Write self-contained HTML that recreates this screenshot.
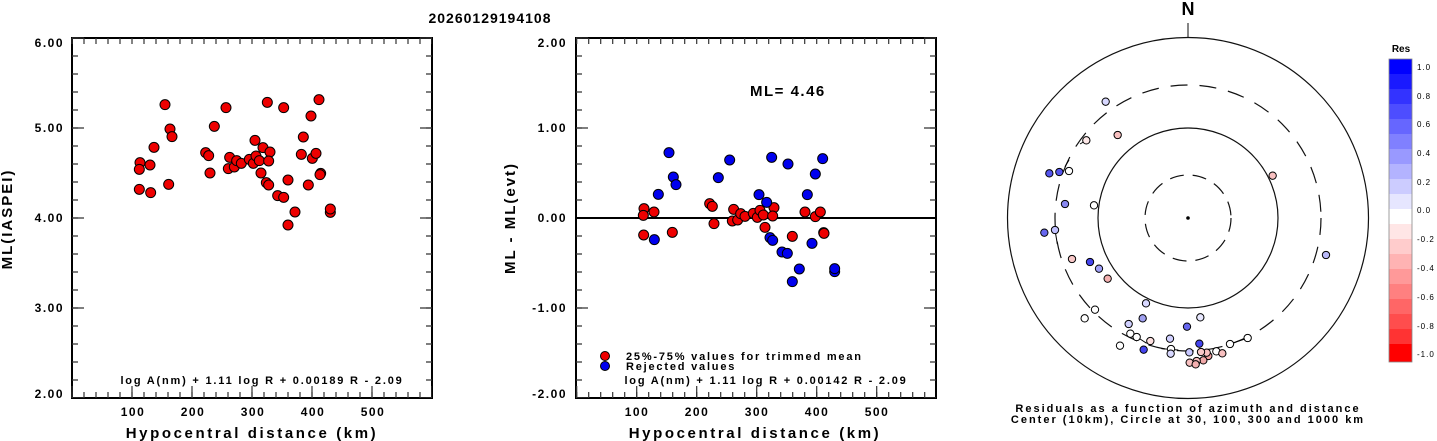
<!DOCTYPE html>
<html><head><meta charset="utf-8"><style>
html,body{margin:0;padding:0;background:#fff;}
svg{display:block;font-family:"Liberation Sans",sans-serif;font-weight:bold;}
</style></head><body>
<svg width="1437" height="441" viewBox="0 0 1437 441" xmlns="http://www.w3.org/2000/svg">
<text x="490" y="23" font-size="14" text-anchor="middle" letter-spacing="1">20260129194108</text>

<!-- LEFT PLOT -->
<g stroke="#333" fill="none">
<rect x="72" y="38" width="360" height="360" stroke="#000" stroke-width="2"/>
<line x1="75" y1="37.4" x2="75" y2="398" stroke-width="6" stroke-dasharray="1.2 16.8"/>
<line x1="78" y1="37.4" x2="78" y2="398" stroke-width="12" stroke-dasharray="1.2 88.8"/>
<line x1="429" y1="37.4" x2="429" y2="398" stroke-width="6" stroke-dasharray="1.2 16.8"/>
<line x1="426" y1="37.4" x2="426" y2="398" stroke-width="12" stroke-dasharray="1.2 88.8"/>
<line x1="71.4" y1="395" x2="432" y2="395" stroke-width="6" stroke-dasharray="1.2 10.8"/>
<line x1="71.4" y1="392" x2="432" y2="392" stroke-width="12" stroke-dasharray="1.2 58.8"/>
<line x1="71.4" y1="41" x2="432" y2="41" stroke-width="6" stroke-dasharray="1.2 10.8"/>
</g>
<g font-size="12" text-anchor="end" letter-spacing="1.5">
<text x="64" y="47">6.00</text><text x="64" y="132">5.00</text><text x="64" y="222">4.00</text><text x="64" y="312">3.00</text><text x="64" y="398">2.00</text>
</g>
<g font-size="12" text-anchor="middle" letter-spacing="1.5">
<text x="133" y="416">100</text><text x="193" y="416">200</text><text x="253" y="416">300</text><text x="313" y="416">400</text><text x="373" y="416">500</text>
</g>
<text x="252" y="438" font-size="15" text-anchor="middle" letter-spacing="2.6">Hypocentral distance (km)</text>
<text transform="translate(12,219) rotate(-90)" font-size="15" text-anchor="middle" letter-spacing="2">ML(IASPEI)</text>
<text x="262" y="384" font-size="11" text-anchor="middle" letter-spacing="1.8" font-weight="normal" style="font-weight:bold">log A(nm) + 1.11 log R + 0.00189 R - 2.09</text>
<g transform="translate(0,30) scale(0.33333)" fill="#e00" stroke="#000" stroke-width="3">
<circle cx="420" cy="398" r="15"/><circle cx="418" cy="418" r="15"/><circle cx="418" cy="478" r="15"/><circle cx="450" cy="405" r="15"/><circle cx="452" cy="488" r="15"/><circle cx="462" cy="352" r="15"/><circle cx="495" cy="224" r="15"/><circle cx="510" cy="297" r="15"/><circle cx="516" cy="320" r="15"/><circle cx="506" cy="463" r="15"/><circle cx="617" cy="368" r="15"/><circle cx="626" cy="377" r="15"/><circle cx="630" cy="429" r="15"/><circle cx="643" cy="289" r="15"/><circle cx="678" cy="233" r="15"/><circle cx="689" cy="382" r="15"/><circle cx="685" cy="416" r="15"/><circle cx="703" cy="411" r="15"/><circle cx="710" cy="392" r="15"/><circle cx="724" cy="400" r="15"/><circle cx="748" cy="388" r="15"/><circle cx="760" cy="400" r="15"/><circle cx="765" cy="331" r="15"/><circle cx="768" cy="378" r="15"/><circle cx="778" cy="392" r="15"/><circle cx="789" cy="353" r="15"/><circle cx="783" cy="429" r="15"/><circle cx="802" cy="217" r="15"/><circle cx="810" cy="366" r="15"/><circle cx="806" cy="393" r="15"/><circle cx="799" cy="458" r="15"/><circle cx="806" cy="465" r="15"/><circle cx="833" cy="497" r="15"/><circle cx="851" cy="502" r="15"/><circle cx="851" cy="233" r="15"/><circle cx="864" cy="450" r="15"/><circle cx="864" cy="585" r="15"/><circle cx="885" cy="546" r="15"/><circle cx="904" cy="373" r="15"/><circle cx="910" cy="321" r="15"/><circle cx="925" cy="465" r="15"/><circle cx="933" cy="258" r="15"/><circle cx="937" cy="385" r="15"/><circle cx="948" cy="370" r="15"/><circle cx="957" cy="209" r="15"/><circle cx="962" cy="430" r="15"/><circle cx="960" cy="434" r="15"/><circle cx="991" cy="547" r="15"/><circle cx="991" cy="537" r="15"/>
</g>

<!-- MIDDLE PLOT -->
<g stroke="#333" fill="none">
<rect x="576" y="38" width="360" height="360" stroke="#000" stroke-width="2"/>
<line x1="579" y1="37.4" x2="579" y2="398" stroke-width="6" stroke-dasharray="1.2 16.8"/>
<line x1="582" y1="37.4" x2="582" y2="398" stroke-width="12" stroke-dasharray="1.2 88.8"/>
<line x1="933" y1="37.4" x2="933" y2="398" stroke-width="6" stroke-dasharray="1.2 16.8"/>
<line x1="930" y1="37.4" x2="930" y2="398" stroke-width="12" stroke-dasharray="1.2 88.8"/>
<line x1="576.1" y1="395" x2="936" y2="395" stroke-width="6" stroke-dasharray="1.2 10.8"/>
<line x1="576.1" y1="392" x2="936" y2="392" stroke-width="12" stroke-dasharray="1.2 58.8"/>
<line x1="576.1" y1="41" x2="936" y2="41" stroke-width="6" stroke-dasharray="1.2 10.8"/>
<line x1="576" y1="218" x2="936" y2="218" stroke="#000" stroke-width="2"/>
</g>
<g font-size="12" text-anchor="end" letter-spacing="1.5">
<text x="567" y="47">2.00</text><text x="567" y="132">1.00</text><text x="567" y="222">0.00</text><text x="567" y="312">-1.00</text><text x="567" y="398">-2.00</text>
</g>
<g font-size="12" text-anchor="middle" letter-spacing="1.5">
<text x="637" y="416">100</text><text x="697" y="416">200</text><text x="757" y="416">300</text><text x="817" y="416">400</text><text x="877" y="416">500</text>
</g>
<text x="755" y="438" font-size="15" text-anchor="middle" letter-spacing="2.6">Hypocentral distance (km)</text>
<text transform="translate(515,218) rotate(-90)" font-size="15" text-anchor="middle" letter-spacing="2">ML - ML(evt)</text>
<text x="750" y="96" font-size="15" letter-spacing="1.5">ML= 4.46</text>
<circle cx="605" cy="356" r="4.5" fill="#e00" stroke="#000"/>
<circle cx="605" cy="366" r="4.5" fill="#00e" stroke="#000"/>
<text x="626" y="360" font-size="11" letter-spacing="1.8">25%-75% values for trimmed mean</text>
<text x="626" y="370" font-size="11" letter-spacing="1.8">Rejected values</text>
<text x="766" y="384" font-size="11" text-anchor="middle" letter-spacing="1.8">log A(nm) + 1.11 log R + 0.00142 R - 2.09</text>
<g transform="translate(500,30) scale(0.33333)" stroke="#000" stroke-width="3">
<g fill="#e00">
<circle cx="432" cy="536" r="15"/><circle cx="430" cy="556" r="15"/><circle cx="431" cy="615" r="15"/><circle cx="462" cy="546" r="15"/><circle cx="517" cy="607" r="15"/><circle cx="629" cy="521" r="15"/><circle cx="637" cy="529" r="15"/><circle cx="642" cy="581" r="15"/><circle cx="701" cy="538" r="15"/><circle cx="697" cy="573" r="15"/><circle cx="713" cy="570" r="15"/><circle cx="722" cy="551" r="15"/><circle cx="735" cy="559" r="15"/><circle cx="760" cy="550" r="15"/><circle cx="772" cy="562" r="15"/><circle cx="780" cy="541" r="15"/><circle cx="790" cy="555" r="15"/><circle cx="795" cy="592" r="15"/><circle cx="822" cy="533" r="15"/><circle cx="818" cy="558" r="15"/><circle cx="877" cy="619" r="15"/><circle cx="915" cy="546" r="15"/><circle cx="946" cy="560" r="15"/><circle cx="961" cy="546" r="15"/><circle cx="971" cy="608" r="15"/><circle cx="972" cy="610" r="15"/>
</g>
<g fill="#00e">
<circle cx="507" cy="368" r="15"/><circle cx="463" cy="629" r="15"/><circle cx="475" cy="493" r="15"/><circle cx="520" cy="441" r="15"/><circle cx="528" cy="464" r="15"/><circle cx="655" cy="443" r="15"/><circle cx="689" cy="390" r="15"/><circle cx="777" cy="494" r="15"/><circle cx="800" cy="517" r="15"/><circle cx="810" cy="623" r="15"/><circle cx="818" cy="631" r="15"/><circle cx="815" cy="382" r="15"/><circle cx="846" cy="666" r="15"/><circle cx="862" cy="670" r="15"/><circle cx="864" cy="402" r="15"/><circle cx="877" cy="755" r="15"/><circle cx="898" cy="717" r="15"/><circle cx="922" cy="494" r="15"/><circle cx="936" cy="640" r="15"/><circle cx="946" cy="432" r="15"/><circle cx="968" cy="386" r="15"/><circle cx="1004" cy="725" r="15"/><circle cx="1004" cy="716" r="15"/>
</g>
</g>

<!-- POLAR -->
<text x="1188" y="15" font-size="18" text-anchor="middle">N</text>
<line x1="1188" y1="23" x2="1188" y2="38" stroke="#333" stroke-width="1.2"/>
<g fill="none" stroke="#111" stroke-width="1.2">
<circle cx="1188" cy="218" r="180.5"/>
<circle cx="1188" cy="218" r="90"/>
<circle cx="1188" cy="218" r="133" stroke-dasharray="17 12"/>
<circle cx="1188" cy="218" r="43" stroke-dasharray="14 9"/>
</g>
<circle cx="1188" cy="218" r="1.8" fill="#000"/>
<g transform="translate(1000,0) scale(0.33333)" stroke="#000" stroke-width="3">
<g stroke-width="3"><line x1="690" y1="1032" x2="743" y2="1014"/><line x1="484" y1="1046" x2="535" y2="1050"/><line x1="411" y1="1011" x2="440" y2="1030"/><line x1="165" y1="690" x2="172" y2="732"/><line x1="195" y1="500" x2="207" y2="480"/><line x1="259" y1="421" x2="240" y2="432"/></g>
<circle cx="317" cy="305" r="11" fill="#d8d8ff"/><circle cx="353" cy="405" r="11" fill="#f8c0c0"/><circle cx="259" cy="421" r="11" fill="#fde8e8"/>
<circle cx="148" cy="520" r="11" fill="#5555ee"/><circle cx="178" cy="516" r="11" fill="#5555ee"/><circle cx="207" cy="513" r="11" fill="#fff"/>
<circle cx="195" cy="612" r="11" fill="#8888f0"/><circle cx="282" cy="616" r="11" fill="#fff"/>
<circle cx="133" cy="698" r="11" fill="#6666ee"/><circle cx="165" cy="690" r="11" fill="#c0c0ff"/>
<circle cx="216" cy="777" r="11" fill="#f8c8c8"/><circle cx="270" cy="786" r="11" fill="#4444ee"/><circle cx="297" cy="806" r="11" fill="#a0a0f8"/><circle cx="323" cy="836" r="11" fill="#f4b0b0"/>
<circle cx="818" cy="527" r="11" fill="#f8c0c0"/><circle cx="978" cy="765" r="11" fill="#b8b8f8"/>
<circle cx="438" cy="910" r="11" fill="#d8d8ff"/><circle cx="285" cy="929" r="11" fill="#fff"/><circle cx="254" cy="955" r="11" fill="#fff"/><circle cx="428" cy="955" r="11" fill="#a0a0f0"/><circle cx="386" cy="972" r="11" fill="#d0d0ff"/><circle cx="601" cy="952" r="11" fill="#e8e8ff"/><circle cx="561" cy="980" r="11" fill="#6666ee"/>
<circle cx="391" cy="1001" r="11" fill="#fff"/><circle cx="410" cy="1011" r="11" fill="#fff"/><circle cx="451" cy="1023" r="11" fill="#fde0e0"/><circle cx="360" cy="1037" r="11" fill="#fff"/><circle cx="431" cy="1049" r="11" fill="#4444ee"/><circle cx="510" cy="1016" r="11" fill="#d0d0ff"/><circle cx="513" cy="1047" r="11" fill="#fff"/><circle cx="512" cy="1061" r="11" fill="#d8d8ff"/><circle cx="598" cy="1031" r="11" fill="#4444ee"/><circle cx="568" cy="1057" r="11" fill="#c8c8ff"/>
<circle cx="649" cy="1054" r="11" fill="#fff"/><circle cx="667" cy="1060" r="11" fill="#f8c0c0"/><circle cx="690" cy="1032" r="11" fill="#fff"/><circle cx="743" cy="1014" r="11" fill="#fff"/>
<circle cx="625" cy="1068" r="11" fill="#f0a0a0"/><circle cx="620" cy="1058" r="11" fill="#f8c0c0"/><circle cx="603" cy="1056" r="11" fill="#f8c8c8"/><circle cx="569" cy="1088" r="11" fill="#f8c0c0"/><circle cx="610" cy="1081" r="11" fill="#f0a8a8"/><circle cx="590" cy="1083" r="11" fill="#f8c0c0"/><circle cx="587" cy="1093" r="11" fill="#f4b0b0"/>
</g>
<g font-size="11" text-anchor="middle" letter-spacing="2">
<text x="1188" y="412">Residuals as a function of azimuth and distance</text>
<text x="1188" y="423">Center (10km), Circle at 30, 100, 300 and 1000 km</text>
</g>

<!-- COLORBAR -->
<text x="1401" y="52" font-size="10" text-anchor="middle">Res</text>
<g stroke="none">
<rect x="1389" y="59" width="23" height="15.2" fill="#0000ff"/>
<rect x="1389" y="74" width="23" height="15.2" fill="#1a1aff"/>
<rect x="1389" y="89" width="23" height="15.2" fill="#3333ff"/>
<rect x="1389" y="104" width="23" height="15.2" fill="#4d4dff"/>
<rect x="1389" y="119" width="23" height="15.2" fill="#6666ff"/>
<rect x="1389" y="134" width="23" height="15.2" fill="#8080ff"/>
<rect x="1389" y="149" width="23" height="15.2" fill="#9999ff"/>
<rect x="1389" y="164" width="23" height="15.2" fill="#b3b3ff"/>
<rect x="1389" y="179" width="23" height="15.2" fill="#ccccff"/>
<rect x="1389" y="194" width="23" height="15.2" fill="#e6e6ff"/>
<rect x="1389" y="209" width="23" height="15.2" fill="#ffffff"/>
<rect x="1389" y="224" width="23" height="15.2" fill="#ffe6e6"/>
<rect x="1389" y="239" width="23" height="15.2" fill="#ffcccc"/>
<rect x="1389" y="254" width="23" height="15.2" fill="#ffb3b3"/>
<rect x="1389" y="269" width="23" height="15.2" fill="#ff9999"/>
<rect x="1389" y="284" width="23" height="15.2" fill="#ff8080"/>
<rect x="1389" y="299" width="23" height="15.2" fill="#ff6666"/>
<rect x="1389" y="314" width="23" height="15.2" fill="#ff4d4d"/>
<rect x="1389" y="329" width="23" height="15.2" fill="#ff3333"/>
<rect x="1389" y="344" width="23" height="18" fill="#ff0000"/>
</g>
<rect x="1389" y="59" width="23" height="303" fill="none" stroke="#888" stroke-width="0.8"/>
<g font-size="8" letter-spacing="1" font-weight="normal">
<text x="1417" y="70">1.0</text><text x="1417" y="99">0.8</text><text x="1417" y="127">0.6</text><text x="1417" y="156">0.4</text><text x="1417" y="185">0.2</text><text x="1417" y="213">0.0</text><text x="1417" y="242">-0.2</text><text x="1417" y="271">-0.4</text><text x="1417" y="300">-0.6</text><text x="1417" y="329">-0.8</text><text x="1417" y="357">-1.0</text>
</g>
</svg>
</body></html>
